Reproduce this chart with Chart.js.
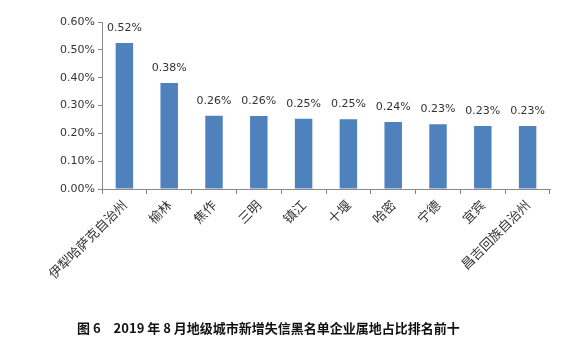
<!DOCTYPE html>
<html>
<head>
<meta charset="utf-8">
<script src="https://cdn.jsdelivr.net/npm/chart.js@4"></script>
<style>
  html, body { margin: 0; padding: 0; background: #fff; }
  #wrap { position: relative; width: 577px; height: 345px; }
  #caption {
    position: absolute; left: 77px; top: 318px;
    font-family: "Noto Sans CJK SC", sans-serif; font-weight: bold;
    font-size: 13px; color: #111; white-space: nowrap;
  }
</style>
</head>
<body>
<div id="wrap">
  <canvas id="myBarChart" width="577" height="345"></canvas>
  <div id="caption">图 6　2019 年 8 月地级城市新增失信黑名单企业属地占比排名前十</div>
</div>
<script>
// cities, ranked
var cities = ['伊犁哈萨克自治州', '榆林', '焦作', '三明', '镇江', '十堰', '哈密', '宁德', '宜宾', '昌吉回族自治州'];
// share in percent
var shares = [0.525, 0.381, 0.263, 0.262, 0.252, 0.251, 0.241, 0.233, 0.226, 0.226];
// the labels printed above the bars
var shareLabels = ['0.52%', '0.38%', '0.26%', '0.26%', '0.25%', '0.25%', '0.24%', '0.23%', '0.23%', '0.23%'];

// draws the value above each bar
var valueLabels = {
  id: 'valueLabels',
  afterDatasetsDraw: function (chart) {
    var ctx = chart.ctx;
    var meta = chart.getDatasetMeta(0);
    ctx.save();
    ctx.font = '11px "DejaVu Sans", sans-serif';
    ctx.fillStyle = '#333';
    ctx.textAlign = 'center';
    ctx.textBaseline = 'middle';
    meta.data.forEach(function (bar, i) {
      ctx.fillText(shareLabels[i], bar.x, bar.y - 15);
    });
    ctx.restore();
  }
};

var ctx = document.getElementById('myBarChart').getContext('2d');
var chart = new Chart(ctx, {
  type: 'bar',
  data: {
    labels: cities,
    datasets: [{
      data: shares,
      backgroundColor: '#4f81bd',
      categoryPercentage: 1,
      barPercentage: 0.39
    }]
  },
  options: {
    responsive: false,
    animation: false,
    layout: { padding: { top: 22, right: 27, left: 0, bottom: 0 } },
    scales: {
      x: {
        grid: { drawOnChartArea: false, tickLength: 5, color: '#888', offset: true },
        border: { color: '#888' },
        ticks: {
          minRotation: 45, maxRotation: 45, autoSkip: false,
          color: '#333',
          font: { family: '"Noto Sans CJK SC", sans-serif', size: 13 }
        },
        afterFit: function (s) { s.height = 345 - 189; }
      },
      y: {
        min: 0, max: 0.6,
        grid: { drawOnChartArea: false, tickLength: 4, color: '#888' },
        border: { color: '#888' },
        ticks: {
          stepSize: 0.1,
          color: '#333',
          font: { family: '"DejaVu Sans", sans-serif', size: 11 },
          callback: function (v) { return v.toFixed(2) + '%'; }
        },
        afterFit: function (s) { s.width = 102; }
      }
    },
    plugins: {
      legend: { display: false },
      tooltip: { enabled: false }
    }
  },
  plugins: [valueLabels]
});
</script>
</body>
</html>
